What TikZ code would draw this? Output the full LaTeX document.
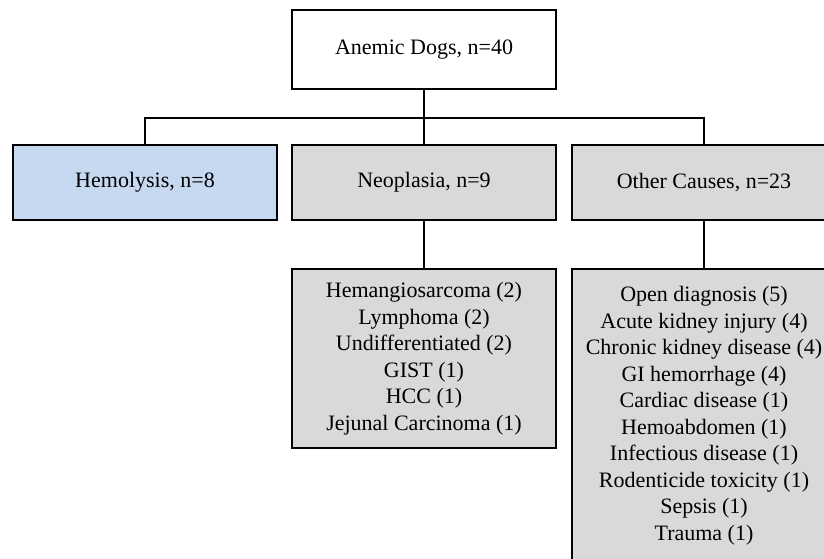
\documentclass[tikz,border=0pt]{standalone}
\usepackage{fontspec}
\setmainfont{Liberation Serif}
\usepackage{xcolor}
\usetikzlibrary{positioning, calc}

\definecolor{hemoblue}{RGB}{198,217,240}
\definecolor{boxgray}{RGB}{217,217,217}

\tikzset{
  box/.style={draw, line width=2pt, minimum width=264pt, inner sep=0pt,
              align=center, font=\fontsize{22}{26.5}\selectfont},
  link/.style={line width=2pt}
}

\begin{document}
\begin{tikzpicture}[x=1pt, y=-1pt]
                    \clip (0,0) rectangle (824,559);
                    \node[box, fill=white, minimum height=79pt] (dogs) at (424,49.5) {Anemic Dogs, n=40};
                    \node[box, fill=hemoblue, minimum height=75pt] (hemo) at (145,182.5) {Hemolysis, n=8};
                    \node[box, fill=boxgray, minimum height=75pt] (neo) at (424,182.5) {Neoplasia, n=9};
                    \node[box, fill=boxgray, minimum height=75pt] (other) at (704,182.5) {Other Causes, n=23};
                    \node[box, fill=boxgray, minimum height=179pt] (neolist) at (424,358.5)
                        {Hemangiosarcoma (2)\\Lymphoma (2)\\Undifferentiated (2)\\GIST (1)\\HCC (1)\\Jejunal Carcinoma (1)};
                    \node[box, fill=boxgray, minimum height=293pt] (otherlist) at (704,415.5)
                        {Open diagnosis (5)\\Acute kidney injury (4)\\Chronic kidney disease (4)\\GI hemorrhage (4)\\Cardiac disease (1)\\Hemoabdomen (1)\\Infectious disease (1)\\Rodenticide toxicity (1)\\Sepsis (1)\\Trauma (1)};
                    \coordinate (bar) at ($(dogs.south)+(0,28)$);
                    \draw[link] (dogs.south) -- (bar);
                    \draw[link] (bar) -| (hemo.north);
                    \draw[link] (bar) -| (other.north);
                    \draw[link] (bar) -- (neo.north);
                    \draw[link] (neo.south) -- (neolist.north);
                    \draw[link] (other.south) -- (otherlist.north);
                \end{tikzpicture}
\end{document}
